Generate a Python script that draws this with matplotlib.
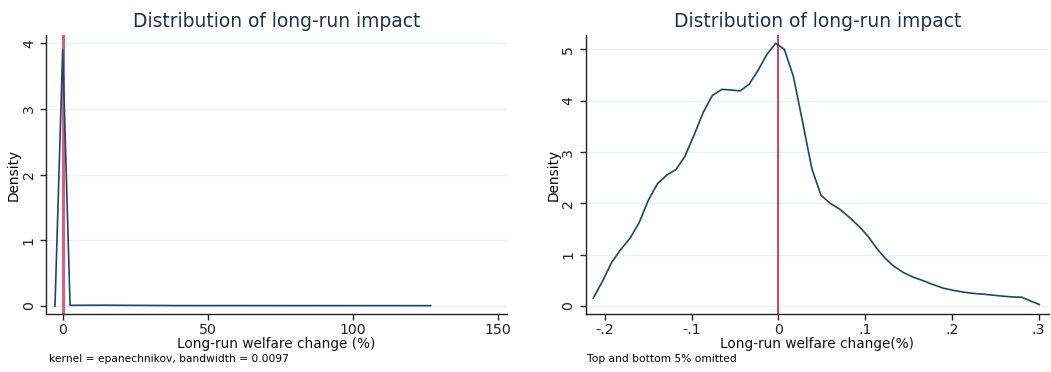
import matplotlib
matplotlib.use("Agg")
import matplotlib.pyplot as plt

# full-sample kernel density (left)
full_x = [-2.7, -0.05, 2.5, 14.0, 40.0, 126.9]
full_y = [0.0, 3.9, 0.01, 0.012, 0.006, 0.005]

# trimmed kernel density, top and bottom 5% dropped (right)
trim_x = [-0.2135, -0.2026, -0.1922, -0.1818, -0.1711, -0.1607, -0.1500, -0.1396,
          -0.1288, -0.1180, -0.1077, -0.0973, -0.0865, -0.0762, -0.0653, -0.0549,
          -0.0442, -0.0338, -0.0238, -0.0134, -0.0030, 0.0069, 0.0173, 0.0282,
          0.0385, 0.0490, 0.0597, 0.0704, 0.0816, 0.0931, 0.1038, 0.1135,
          0.1231, 0.1327, 0.1442, 0.1558, 0.1673, 0.1788, 0.1904, 0.2019,
          0.2135, 0.2250, 0.2365, 0.2480, 0.2596, 0.2711, 0.2808, 0.2904, 0.3008]
trim_y = [0.15, 0.49, 0.85, 1.10, 1.32, 1.62, 2.06, 2.38,
          2.55, 2.66, 2.92, 3.33, 3.78, 4.10, 4.22, 4.21,
          4.19, 4.32, 4.58, 4.90, 5.12, 5.00, 4.47, 3.56,
          2.68, 2.16, 2.00, 1.89, 1.73, 1.55, 1.35, 1.12,
          0.93, 0.78, 0.65, 0.56, 0.49, 0.415, 0.345, 0.305,
          0.27, 0.245, 0.23, 0.21, 0.19, 0.175, 0.17, 0.10, 0.03]

left_xticks = [0, 50, 100, 150]
left_xlabels = ["0", "50", "100", "150"]
left_yticks = [0, 1, 2, 3, 4]
right_xticks = [-0.2, -0.1, 0, 0.1, 0.2, 0.3]
right_xlabels = ["-.2", "-.1", "0", ".1", ".2", ".3"]
right_yticks = [0, 1, 2, 3, 4, 5]

title = "Distribution of long-run impact"
navy = "#1a476f"
W, H = 1051, 372

fig = plt.figure(figsize=(W / 100, H / 100), dpi=100)
fig.patch.set_facecolor("white")


def style(ax, yticks, xlabel):
    for s in ["top", "right"]:
        ax.spines[s].set_visible(False)
    for s in ["left", "bottom"]:
        ax.spines[s].set_color("#222222")
        ax.spines[s].set_linewidth(1.0)
    ax.set_yticks(yticks)
    ax.set_yticklabels([str(v) for v in yticks], rotation=90, va="center")
    ax.tick_params(axis="both", direction="out", length=4.5, width=1,
                   colors="#222222", labelsize=10.2)
    ax.tick_params(axis="x", pad=2)
    ax.tick_params(axis="y", pad=3)
    ax.grid(axis="y", color="#eaf2f3", linewidth=1.0)
    ax.set_axisbelow(True)
    ax.set_title(title, fontsize=13.4, color="#1f2d50", pad=6)
    ax.set_ylabel("Density", fontsize=9.8)
    ax.yaxis.label.set_va("center")
    ax.yaxis.set_label_coords(-0.07, 0.5)
    ax.set_xlabel(xlabel, fontsize=9.8, color="#111111")
    ax.xaxis.label.set_va("center")
    ax.xaxis.set_label_coords(0.5, -0.109)


# left panel
ax1 = fig.add_axes([46.3 / W, (H - 314) / H, (506.7 - 46.3) / W, 279 / H])
ax1.axvline(0, color="#d9607a", linewidth=2.2, zorder=2)
ax1.plot(full_x, full_y, color=navy, linewidth=1.2, zorder=3)
ax1.set_xlim(-5.7, 153.1)
ax1.set_ylim(-0.122, 4.126)
ax1.set_xticks(left_xticks)
ax1.set_xticklabels(left_xlabels)
style(ax1, left_yticks, "Long-run welfare change (%)")
fig.text(49 / W, 1 - 359.5 / H, "kernel = epanechnikov, bandwidth = 0.0097",
         fontsize=7.7, va="center", ha="left")

# right panel
ax2 = fig.add_axes([585.7 / W, (H - 314) / H, (1049 - 585.7) / W, 279 / H])
ax2.axvline(0, color="#c8102e", linewidth=1.1, zorder=2)
ax2.plot(trim_x, trim_y, color=navy, linewidth=1.2, zorder=3)
ax2.set_xlim(-0.2222, 0.312)
ax2.set_ylim(-0.156, 5.28)
ax2.set_xticks(right_xticks)
ax2.set_xticklabels(right_xlabels)
style(ax2, right_yticks, "Long-run welfare change(%)")
fig.text(587 / W, 1 - 359.5 / H, "Top and bottom 5% omitted",
         fontsize=7.7, va="center", ha="left")

fig.savefig("out.png", dpi=100)
